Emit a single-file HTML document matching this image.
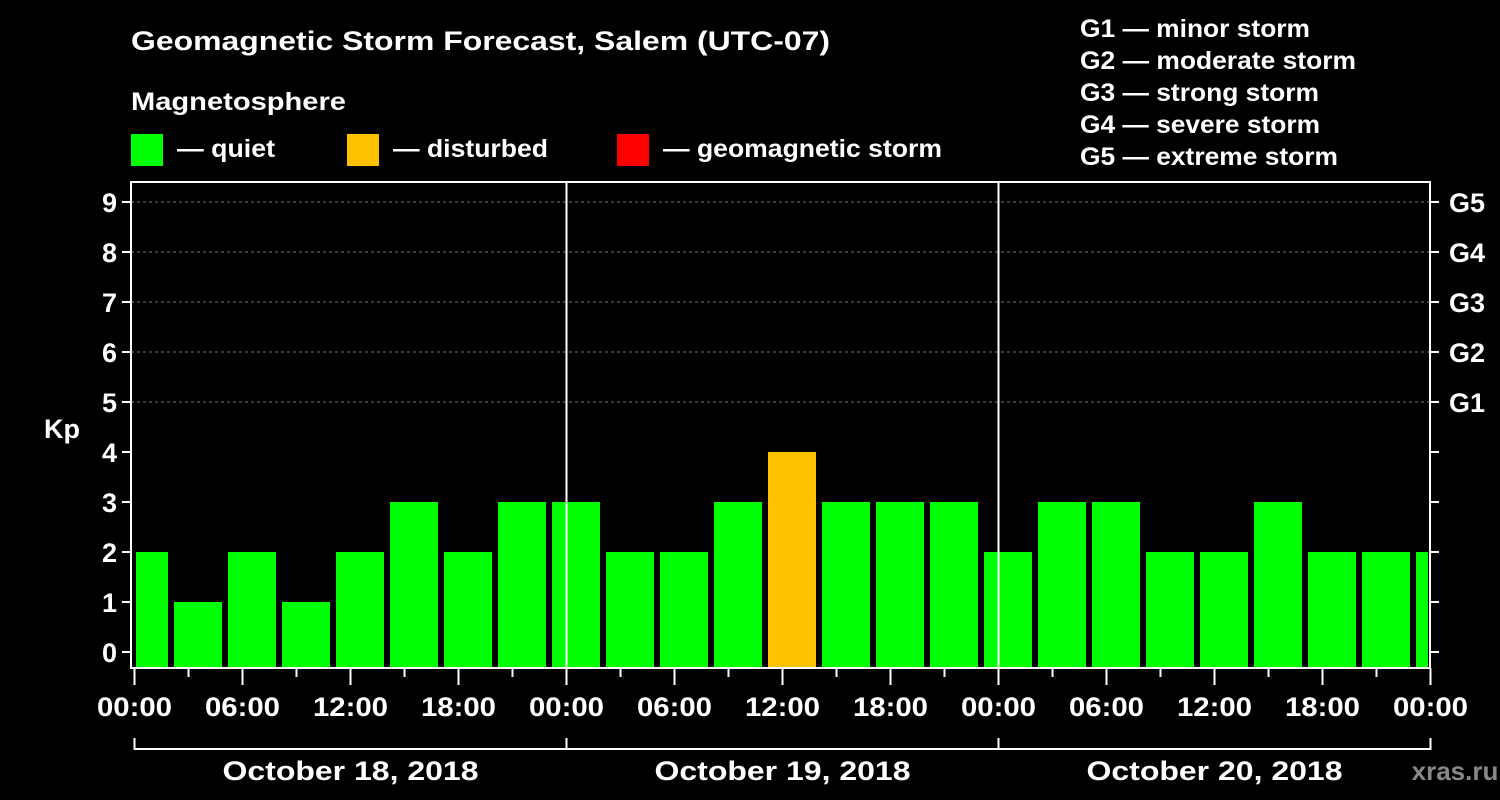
<!DOCTYPE html>
<html><head><meta charset="utf-8"><style>
body{margin:0;background:#000;}
svg{display:block;font-family:"Liberation Sans",Arial,sans-serif;font-weight:bold;}
</style></head><body>
<svg id="chart" width="1500" height="800" viewBox="0 0 1500 800">
<rect width="1500" height="800" fill="#000"/>
<text x="131" y="50" fill="#fff" font-size="27" textLength="699" lengthAdjust="spacingAndGlyphs">Geomagnetic Storm Forecast, Salem (UTC-07)</text>
<text x="131" y="110" fill="#fff" font-size="25" textLength="215" lengthAdjust="spacingAndGlyphs">Magnetosphere</text>
<g><rect x="131" y="134" width="32" height="32" fill="#00ff00"/><text x="177" y="157" fill="#fff" font-size="25" textLength="98" lengthAdjust="spacingAndGlyphs">— quiet</text></g>
<g><rect x="347" y="134" width="32" height="32" fill="#ffc000"/><text x="393" y="157" fill="#fff" font-size="25" textLength="155" lengthAdjust="spacingAndGlyphs">— disturbed</text></g>
<g><rect x="617" y="134" width="32" height="32" fill="#ff0000"/><text x="663" y="157" fill="#fff" font-size="25" textLength="279" lengthAdjust="spacingAndGlyphs">— geomagnetic storm</text></g>
<g fill="#fff" font-size="25">
<text x="1080" y="37" textLength="230" lengthAdjust="spacingAndGlyphs">G1 — minor storm</text>
<text x="1080" y="69" textLength="276" lengthAdjust="spacingAndGlyphs">G2 — moderate storm</text>
<text x="1080" y="101" textLength="239" lengthAdjust="spacingAndGlyphs">G3 — strong storm</text>
<text x="1080" y="133" textLength="240" lengthAdjust="spacingAndGlyphs">G4 — severe storm</text>
<text x="1080" y="165" textLength="258" lengthAdjust="spacingAndGlyphs">G5 — extreme storm</text>
</g>
<text x="62" y="438" fill="#fff" font-size="27" text-anchor="middle">Kp</text>
<text x="1455" y="780" fill="#888" font-size="26" text-anchor="middle">xras.ru</text>
<g id="grid"></g><g id="bars"></g><g id="axes"></g>
</svg>
<script>
const kpValues=[2,1,2,1,2,3,2,3,3,2,2,3,4,3,3,3,2,3,3,2,2,3,2,2,2];
const yTicks=[0,1,2,3,4,5,6,7,8,9];
const gLabels=["G1","G2","G3","G4","G5"];
const gLevels=[5,6,7,8,9];
const timeLabels=["00:00","06:00","12:00","18:00"];
const dayLabels=["October 18, 2018","October 19, 2018","October 20, 2018"];
const NS="http://www.w3.org/2000/svg";
const X0=134.5,PX_PER_HOUR=18,PLOT_L=131,PLOT_R=1430,PLOT_T=182,PLOT_B=668;
function xScale(h){return X0+h*PX_PER_HOUR;}
function yScale(v){return 652-v*50;}
function mk(tag,attrs,parent){const e=document.createElementNS(NS,tag);for(const k in attrs)e.setAttribute(k,attrs[k]);parent.appendChild(e);return e;}
const gridG=document.getElementById('grid'),barsG=document.getElementById('bars'),axesG=document.getElementById('axes');
gLevels.forEach((v,i)=>{
 const l=mk('line',{x1:PLOT_L,x2:PLOT_R,y1:yScale(v),y2:yScale(v),stroke:'#777','stroke-dasharray':'3,3'},gridG);
 
 
 const t=mk('text',{x:1449,y:yScale(v)+10,fill:'#fff','font-size':27},axesG);t.textContent=gLabels[i];
 
 
});
kpValues.forEach((v,k)=>{
 let xa=xScale(3*k)-14.5,xb=xa+48;
 xa=Math.max(xa,136);xb=Math.min(xb,PLOT_R-2);
 const col=v>=5?'#ff0000':(v>=4?'#ffc000':'#00ff00');
 const r=mk('rect',{x:xa,y:yScale(v),width:xb-xa,height:PLOT_B-yScale(v),fill:col},barsG);
 
 
});
[1,2].forEach(d=>{const l=mk('line',{x1:xScale(24*d),x2:xScale(24*d),y1:PLOT_T,y2:PLOT_B,stroke:'#fff','stroke-width':2},axesG);
 
 });
const frame=mk('rect',{x:PLOT_L,y:PLOT_T,width:PLOT_R-PLOT_L,height:PLOT_B-PLOT_T,fill:'none',stroke:'#fff','stroke-width':2},axesG);


yTicks.forEach(v=>{
 mk('line',{x1:PLOT_L-9,x2:PLOT_L,y1:yScale(v),y2:yScale(v),stroke:'#fff','stroke-width':2},axesG);
 mk('line',{x1:PLOT_R,x2:PLOT_R+9,y1:yScale(v),y2:yScale(v),stroke:'#fff','stroke-width':2},axesG);
 const t=mk('text',{x:PLOT_L-14,y:yScale(v)+10,fill:'#fff','font-size':27,'text-anchor':'end'},axesG);t.textContent=v;
 
 
});
for(let h=0;h<=72;h+=3){
 const major=h%6===0;
 mk('line',{x1:xScale(h),x2:xScale(h),y1:PLOT_B,y2:PLOT_B+(major?17:9),stroke:'#fff','stroke-width':2},axesG);
 if(major){const t=mk('text',{x:xScale(h),y:716,fill:'#fff','font-size':27,'text-anchor':'middle',textLength:75,lengthAdjust:'spacingAndGlyphs'},axesG);
  t.textContent=timeLabels[(h/6)%4];
  
  }
}
dayLabels.forEach((d,i)=>{
 const a=xScale(24*i),b=xScale(24*(i+1));
 mk('path',{d:`M${a},738 V749 H${b} V738`,fill:'none',stroke:'#fff','stroke-width':2},axesG);
 const t=mk('text',{x:(a+b)/2,y:780,fill:'#fff','font-size':27,'text-anchor':'middle',textLength:256,lengthAdjust:'spacingAndGlyphs'},axesG);t.textContent=d;
 
 
});
</script>
</body></html>
